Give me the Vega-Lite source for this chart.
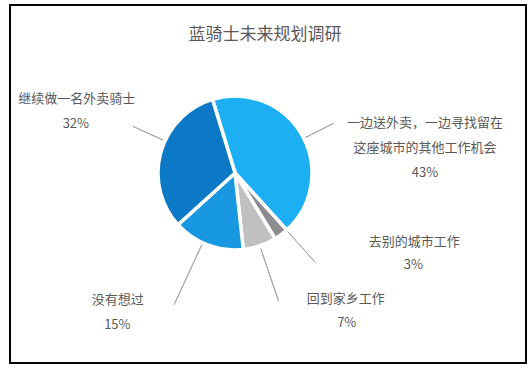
{
  "$schema": "https://vega.github.io/schema/vega-lite/v6.json",
  "width": 516,
  "height": 358,
  "autosize": {"type": "none"},
  "padding": {"left": 10, "top": 5, "right": 5, "bottom": 9},
  "background": "white",
  "view": {"stroke": "#000000", "strokeWidth": 2, "fill": "white"},
  "config": {"view": {"stroke": "#000000", "strokeWidth": 2}},
  "title": {"text": "蓝骑士未来规划调研", "fontSize": 17, "font": "Noto Sans CJK SC", "fontWeight": "normal", "color": "#595959", "offset": -39, "dx": -3, "anchor": "middle"},
  "data": {"values": [
    {"category": "一边送外卖，一边寻找留在\n这座城市的其他工作机会", "share": 0.43, "idx": 1},
    {"category": "去别的城市工作", "share": 0.03, "idx": 2},
    {"category": "回到家乡工作", "share": 0.07, "idx": 3},
    {"category": "没有想过", "share": 0.15, "idx": 4},
    {"category": "继续做一名外卖骑士", "share": 0.32, "idx": 5}
  ]},
  "encoding": {
    "theta": {"field": "share", "type": "quantitative", "stack": true, "scale": {"range": [-0.2967, 5.9865]}},
    "order": {"field": "idx", "type": "quantitative"},
    "detail": {"field": "category", "type": "nominal"}
  },
  "layer": [
    {
      "mark": {"type": "arc", "outerRadius": 77, "stroke": "white", "strokeWidth": 3.5, "x": 225, "y": 168},
      "encoding": {
        "color": {"field": "idx", "type": "nominal", "legend": null,
          "scale": {"domain": [1, 2, 3, 4, 5], "range": ["#1CAFF4", "#8C8C90", "#C0C0C0", "#1898E0", "#0B79C6"]}}
      }
    },
    {
      "mark": {"type": "arc", "padAngle": 3, "outerRadius": 110, "innerRadius": 79, "thetaOffset": 0.05, "theta2Offset": 0.05, "fill": "transparent", "strokeWidth": 1, "x": 225, "y": 168},
      "encoding": {"stroke": {"condition": {"test": "datum.idx === 1", "value": "#A6A6A6"}, "value": "transparent"}}
    },
    {
      "mark": {"type": "arc", "padAngle": 3, "outerRadius": 120, "innerRadius": 79, "thetaOffset": -0.09, "theta2Offset": -0.09, "fill": "transparent", "strokeWidth": 1, "x": 225, "y": 168},
      "encoding": {"stroke": {"condition": {"test": "datum.idx === 2", "value": "#A6A6A6"}, "value": "transparent"}}
    },
    {
      "mark": {"type": "arc", "padAngle": 3, "outerRadius": 135, "innerRadius": 80, "fill": "transparent", "strokeWidth": 1, "x": 225, "y": 168},
      "encoding": {"stroke": {"condition": {"test": "datum.idx === 3", "value": "#A6A6A6"}, "value": "transparent"}}
    },
    {
      "mark": {"type": "arc", "padAngle": 3, "outerRadius": 145, "innerRadius": 79, "thetaOffset": 0.07, "theta2Offset": 0.07, "fill": "transparent", "strokeWidth": 1, "x": 225, "y": 168},
      "encoding": {"stroke": {"condition": {"test": "datum.idx === 4", "value": "#A6A6A6"}, "value": "transparent"}}
    },
    {
      "mark": {"type": "arc", "padAngle": 3, "outerRadius": 112, "innerRadius": 79, "thetaOffset": 0.16, "theta2Offset": 0.16, "fill": "transparent", "strokeWidth": 1, "x": 225, "y": 168},
      "encoding": {"stroke": {"condition": {"test": "datum.idx === 5", "value": "#A6A6A6"}, "value": "transparent"}}
    },
    {
      "mark": {"type": "text", "radius": 110, "x": 225, "y": 168, "dx": 94.4, "dy": 4.8, "fontSize": 13, "font": "Noto Sans CJK SC", "fill": "#595959", "lineBreak": "\n", "lineHeight": 24.5},
      "encoding": {"text": {"condition": {"test": "datum.idx === 1", "field": "category", "type": "nominal"}, "value": ""}}
    },
    {
      "mark": {"type": "text", "radius": 110, "x": 225, "y": 168, "dx": 94.4, "dy": 54, "fontSize": 13, "font": "Noto Sans CJK SC", "fill": "#595959"},
      "encoding": {"text": {"condition": {"test": "datum.idx === 1", "field": "share", "type": "quantitative", "format": ".0%"}, "value": ""}}
    },
    {
      "mark": {"type": "text", "radius": 110, "x": 225, "y": 168, "dx": 113.4, "dy": -19.4, "fontSize": 13, "font": "Noto Sans CJK SC", "fill": "#595959"},
      "encoding": {"text": {"condition": {"test": "datum.idx === 2", "field": "category", "type": "nominal"}, "value": ""}}
    },
    {
      "mark": {"type": "text", "radius": 110, "x": 225, "y": 168, "dx": 112.4, "dy": 4, "fontSize": 13, "font": "Noto Sans CJK SC", "fill": "#595959"},
      "encoding": {"text": {"condition": {"test": "datum.idx === 2", "field": "share", "type": "quantitative", "format": ".0%"}, "value": ""}}
    },
    {
      "mark": {"type": "text", "radius": 110, "x": 225, "y": 168, "dx": 75.3, "dy": 21.6, "fontSize": 13, "font": "Noto Sans CJK SC", "fill": "#595959"},
      "encoding": {"text": {"condition": {"test": "datum.idx === 3", "field": "category", "type": "nominal"}, "value": ""}}
    },
    {
      "mark": {"type": "text", "radius": 110, "x": 225, "y": 168, "dx": 76.3, "dy": 46.2, "fontSize": 13, "font": "Noto Sans CJK SC", "fill": "#595959"},
      "encoding": {"text": {"condition": {"test": "datum.idx === 3", "field": "share", "type": "quantitative", "format": ".0%"}, "value": ""}}
    },
    {
      "mark": {"type": "text", "radius": 110, "x": 225, "y": 168, "dx": -78.1, "dy": 24.3, "fontSize": 13, "font": "Noto Sans CJK SC", "fill": "#595959"},
      "encoding": {"text": {"condition": {"test": "datum.idx === 4", "field": "category", "type": "nominal"}, "value": ""}}
    },
    {
      "mark": {"type": "text", "radius": 110, "x": 225, "y": 168, "dx": -78.6, "dy": 49, "fontSize": 13, "font": "Noto Sans CJK SC", "fill": "#595959"},
      "encoding": {"text": {"condition": {"test": "datum.idx === 4", "field": "share", "type": "quantitative", "format": ".0%"}, "value": ""}}
    },
    {
      "mark": {"type": "text", "radius": 110, "x": 225, "y": 168, "dx": -52.1, "dy": -44.4, "fontSize": 13, "font": "Noto Sans CJK SC", "fill": "#595959"},
      "encoding": {"text": {"condition": {"test": "datum.idx === 5", "field": "category", "type": "nominal"}, "value": ""}}
    },
    {
      "mark": {"type": "text", "radius": 110, "x": 225, "y": 168, "dx": -53.1, "dy": -19.8, "fontSize": 13, "font": "Noto Sans CJK SC", "fill": "#595959"},
      "encoding": {"text": {"condition": {"test": "datum.idx === 5", "field": "share", "type": "quantitative", "format": ".0%"}, "value": ""}}
    }
  ]
}
